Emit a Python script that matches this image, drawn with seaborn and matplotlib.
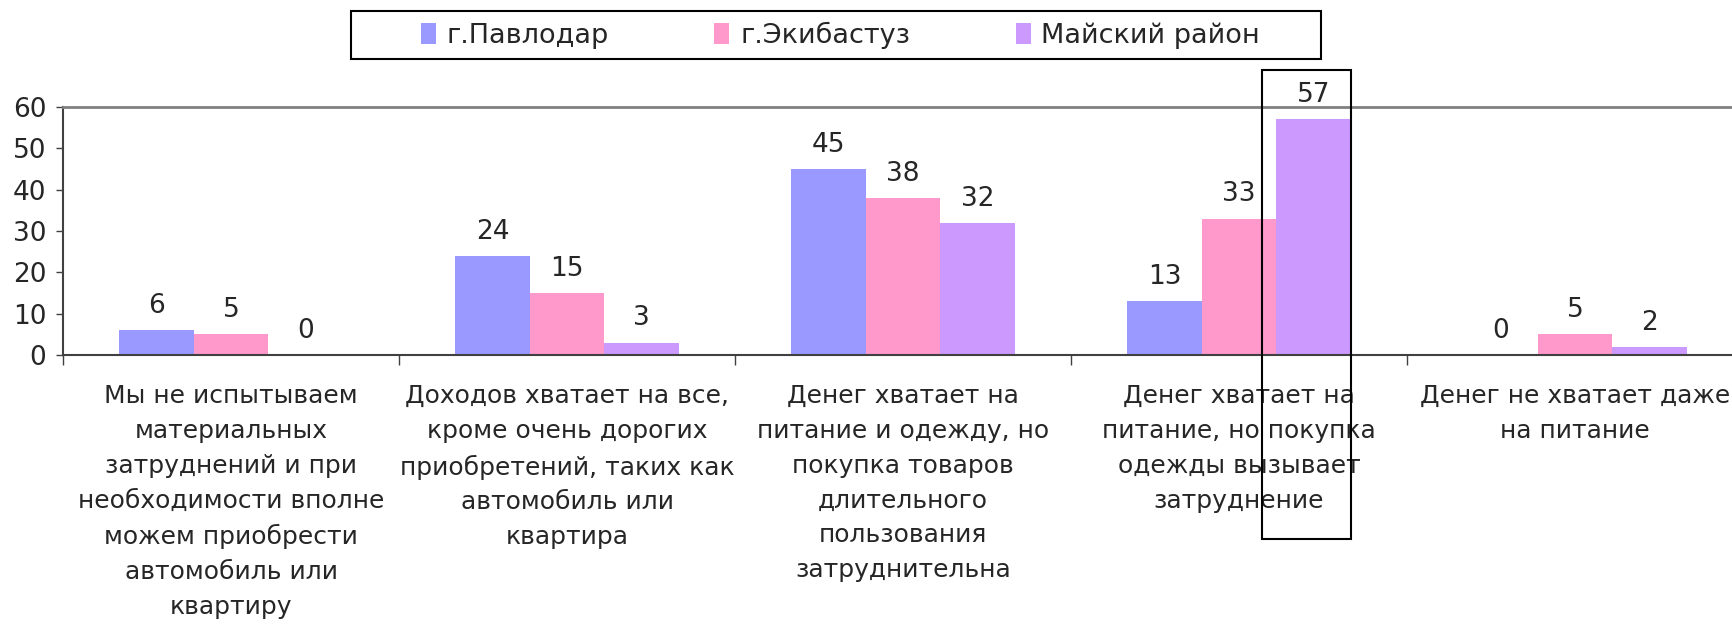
import numpy as np
import pandas as pd
import matplotlib
matplotlib.use('Agg')
import matplotlib.pyplot as plt
import matplotlib.transforms as mtransforms
from matplotlib.patches import Rectangle
import seaborn as sns

sns.set_style('white')
plt.rcParams['font.family'] = ['DejaVu Sans']

# data
categories = [
    'Мы не испытываем\nматериальных\nзатруднений и при\nнеобходимости вполне\nможем приобрести\nавтомобиль или\nквартиру',
    'Доходов хватает на все,\nкроме очень дорогих\nприобретений, таких как\nавтомобиль или\nквартира',
    'Денег хватает на\nпитание и одежду, но\nпокупка товаров\nдлительного\nпользования\nзатруднительна',
    'Денег хватает на\nпитание, но покупка\nодежды вызывает\nзатруднение',
    'Денег не хватает даже\nна питание',
]
cities = ['г.Павлодар', 'г.Экибастуз', 'Майский район']
pavlodar = [6, 24, 45, 13, 0]
ekibastuz = [5, 15, 38, 33, 5]
maysky = [0, 3, 32, 57, 2]
colors = ['#9999FF', '#FF99CC', '#CC99FF']
yticks = [0, 10, 20, 30, 40, 50, 60]

df = pd.DataFrame({
    'category': categories * 3,
    'city': np.repeat(cities, len(categories)),
    'value': pavlodar + ekibastuz + maysky,
})

fig = plt.figure(figsize=(17.33, 6.29), dpi=100)
ax = fig.add_axes([0.0364, 0.4356, 0.9694, 0.3943])

sns.barplot(data=df, x='category', y='value', hue='city', order=categories,
            hue_order=cities, palette=colors, width=0.665, saturation=1,
            errorbar=None, linewidth=0, ax=ax)

# value labels above bars
for cont, vals in zip(ax.containers, [pavlodar, ekibastuz, maysky]):
    ax.bar_label(cont, labels=[str(v) for v in vals], padding=8, fontsize=19)

ax.set_xlim(-0.5, 4.5)
ax.set_ylim(0, 60)
ax.set_yticks(yticks)
ax.set_xlabel('')
ax.set_ylabel('')

ax.set_xticks(range(len(categories)))
ax.set_xticklabels(categories, fontsize=18, linespacing=1.57, ha='center')
ax.set_xticks(np.arange(-0.5, len(categories), 1), minor=True)
ax.tick_params(axis='x', which='major', length=0, pad=21)
ax.tick_params(axis='x', which='minor', length=7, width=1, direction='out',
               color='#404040', bottom=True)
ax.tick_params(axis='y', length=5, width=1, direction='out', color='#404040',
               labelsize=19, pad=7, left=True)

for s in ['left', 'bottom']:
    ax.spines[s].set_color('#404040')
    ax.spines[s].set_linewidth(1.5)
ax.spines['top'].set_color('#808080')
ax.spines['top'].set_linewidth(2)
ax.spines['right'].set_visible(False)

# legend without its own frame, boxed separately
handles, labels = ax.get_legend_handles_labels()
ax.get_legend().remove()
fig.legend(handles, labels, ncol=3, frameon=False, loc='center',
           bbox_to_anchor=(0.485, 0.944), fontsize=19.5, handlelength=0.55,
           handleheight=0.85, handletextpad=0.4, columnspacing=3.9)
fig.add_artist(Rectangle((351 / 1733, 1 - 59 / 629), 970 / 1733, 48 / 629,
                         transform=fig.transFigure, fill=False,
                         edgecolor='black', lw=1.5))

# highlight box around the 57 bar
bar = ax.containers[2].patches[3]
x0 = bar.get_x() - 0.044
x1 = bar.get_x() + bar.get_width()
trans = mtransforms.blended_transform_factory(ax.transData, fig.transFigure)
fig.add_artist(Rectangle((x0, 0.143), x1 - x0, 0.889 - 0.143, transform=trans,
                         fill=False, edgecolor='black', lw=1.5, clip_on=False))

fig.savefig('out.png', dpi=100)
